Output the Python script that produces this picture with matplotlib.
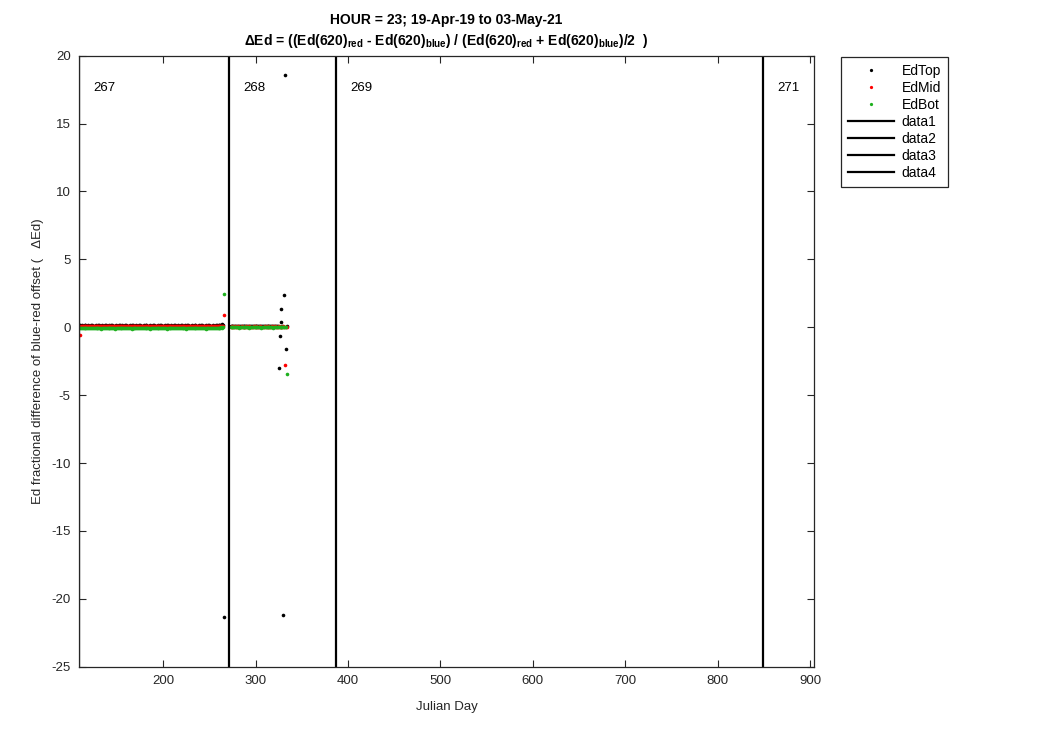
import numpy as np
import matplotlib
matplotlib.use("Agg")
import matplotlib.pyplot as plt

plt.rcParams['font.family'] = ['Liberation Sans', 'DejaVu Sans']
plt.rcParams['mathtext.fontset'] = 'custom'
plt.rcParams['mathtext.rm'] = 'Liberation Sans'
plt.rcParams['mathtext.bf'] = 'Liberation Sans:bold'
plt.rcParams['axes.unicode_minus'] = False

# deployment 267: one sample per day at hour 23
days_267 = np.arange(109, 267)
# deployment 268
days_268 = np.arange(273, 335)

# values in hundredths of delta Ed
edtop_267 = [
    14, 13, 12, 13, 11, 12, 14, 13, 12, 12, 13, 11, 12, 13, 14, 12, 11, 12, 13, 12,
    12, 13, 14, 12, 11, 13, 12, 12, 14, 13, 12, 11, 12, 13, 12, 14, 13, 12, 11, 12,
    13, 12, 12, 14, 13, 11, 12, 13, 12, 12, 13, 14, 12, 11, 12, 13, 12, 13, 14, 12,
    11, 12, 13, 12, 12, 14, 13, 12, 11, 12, 13, 12, 14, 13, 12, 11, 12, 13, 12, 12,
    14, 13, 12, 11, 12, 13, 12, 12, 13, 14, 12, 11, 12, 13, 12, 14, 13, 12, 11, 12,
    13, 12, 12, 14, 13, 11, 12, 13, 12, 12, 13, 14, 12, 11, 12, 13, 12, 13, 14, 12,
    11, 12, 13, 12, 12, 14, 13, 12, 11, 12, 13, 12, 14, 13, 12, 11, 12, 13, 12, 12,
    14, 13, 12, 11, 12, 13, 12, 12, 13, 14, 12, 13, 15, 13, 12, 24, 16, -2133,
]
edmid_267 = [
    8, -57, 9, 8, 7, 9, 8, 8, 10, 9, 8, 7, 8, 9, 8, 10, 9, 8, 7, 8,
    9, 8, 7, 8, 9, 10, 8, 7, 8, 9, 8, 8, 9, 7, 8, 9, 10, 8, 8, 7,
    8, 9, 8, 7, 9, 8, 10, 9, 8, 8, 7, 8, 9, 8, 10, 8, 7, 9, 8, 8,
    7, 8, 9, 10, 8, 8, 9, 7, 8, 9, 8, 10, 8, 7, 8, 9, 8, 9, 8, 7,
    8, 9, 8, 8, 10, 9, 7, 8, 9, 8, 8, 7, 9, 8, 10, 8, 9, 8, 7, 8,
    9, 8, 7, 8, 9, 10, 8, 8, 9, 7, 8, 9, 8, 8, 10, 9, 8, 7, 8, 9,
    8, 7, 9, 8, 8, 10, 9, 8, 7, 8, 9, 8, 8, 9, 10, 8, 7, 8, 9, 8,
    8, 9, 7, 8, 9, 8, 10, 9, 8, 8, 9, 10, 11, 9, 10, 12, 11, 91,
]
edbot_267 = [
    -4, -5, -3, -6, -4, -2, -5, -7, -4, -3, -5, -8, -4, -3, -6, -4, -5, -9, -3, -4,
    -5, -3, -6, -4, -10, -5, -3, -4, -6, -5, -3, -4, -7, -5, -4, -3, -6, -4, -5, -11,
    -4, -3, -5, -6, -4, -3, -5, -4, -8, -5, -3, -4, -6, -4, -5, -3, -4, -12, -5, -4,
    -3, -5, -4, -6, -4, -3, -5, -9, -4, -3, -5, -4, -6, -5, -3, -4, -5, -10, -4, -3,
    -5, -4, -6, -3, -4, -5, -4, -7, -5, -3, -4, -6, -4, -5, -3, -13, -4, -5, -4, -3,
    -6, -4, -5, -3, -4, -8, -5, -4, -3, -5, -4, -6, -4, -3, -5, -4, -10, -5, -3, -4,
    -5, -4, -6, -3, -4, -5, -9, -4, -3, -5, -4, -6, -5, -3, -4, -5, -4, -11, -3, -4,
    -5, -4, -3, -6, -4, -5, -3, -4, -6, -5, -3, -4, -2, -3, -1, -2, 0, 245,
]
edtop_268 = [
    8, 7, 9, 8, 6, 8, 7, 9, 8, 8, 7, 6, 8, 9, 8, 7, 8, 6, 9, 8,
    7, 8, 8, 9, 7, 6, 8, 8, 7, 9, 8, 7, 8, 6, 8, 9, 7, 8, 8, 7,
    9, 8, 6, 8, 7, 8, 9, 8, 7, 8, 8, 7,
    -300, -64, 39, 135, 7, -2118, 238, 1858, -160, 6,
]
edmid_268 = [
    5, 6, 4, 5, 5, 6, 4, 5, 6, 5, 4, 5, 6, 5, 4, 5, 5, 6, 4, 5,
    6, 5, 4, 5, 5, 6, 4, 5, 6, 5, 4, 5, 6, 5, 4, 5, 5, 6, 4, 5,
    6, 5, 4, 5, 5, 6, 4, 5, 6, 5, 4, 5, 6, 5, 4, 5, 5, 6, 4,
    -278, 5, 4,
]
edbot_268 = [
    1, 0, 2, 1, -1, 1, 2, 0, 1, -2, 1, 0, 2, 1, 0, -1, 1, 2, 0, 1,
    -3, 1, 0, 2, 1, 0, 1, -1, 2, 1, 0, 1, 2, -2, 1, 0, 1, 2, 0, 1,
    -1, 1, 0, 2, 1, 0, -3, 1, 2, 0, 1, 1, 0, 2, 1, -1, 0, 1, 2, 1,
    0, -344,
]

deploy_days = [109, 271.5, 387, 849]
deploy_labels = ["267", "268", "269", "271"]
line_labels = ["data1", "data2", "data3", "data4"]

days = np.concatenate([days_267, days_268])
edtop = np.array(edtop_267 + edtop_268) / 100.0
edmid = np.array(edmid_267 + edmid_268) / 100.0
edbot = np.array(edbot_267 + edbot_268) / 100.0

fig = plt.figure(figsize=(10.5, 7.5), dpi=100)
ax = fig.add_axes([0.0752, 0.1111, 0.700, 0.8146])

ax.plot(days, edtop, 'o', color='k', ms=2.6, mec='none', label='EdTop')
ax.plot(days, edmid, 'o', color='#ff0000', ms=2.6, mec='none', label='EdMid')
ax.plot(days, edbot, 'o', color='#1eb01e', ms=2.6, mec='none', label='EdBot')

for d, lab in zip(deploy_days, line_labels):
    ax.axvline(d, color='k', lw=1.6, label=lab)
for d, lab in zip(deploy_days, deploy_labels):
    ax.text(d + 15, 17.6, lab, fontsize=9.5, ha='left', va='center')

ax.set_xlim(109, 904)
ax.set_ylim(-25, 20)
ax.set_xticks(range(200, 1000, 100))
ax.set_yticks(range(-25, 25, 5))
ax.tick_params(direction='in', top=True, right=True, length=5, width=0.8,
               labelsize=9.5, color='#262626', labelcolor='#262626', pad=6)
for s in ax.spines.values():
    s.set_color('#262626')
    s.set_linewidth(0.9)

ax.set_xlabel('Julian Day', fontsize=9.5, color='#262626', labelpad=10)
ax.set_ylabel('Ed fractional difference of blue-red offset (   \u0394Ed)',
              fontsize=9.5, color='#262626', labelpad=5)

fig.text(0.4252, 1 - 20 / 750, 'HOUR = 23; 19-Apr-19 to 03-May-21',
         ha='center', va='center', fontsize=10, fontweight='bold')
fig.text(0.4252, 1 - 41 / 750,
         '\u0394Ed = ((Ed(620)$_{\\mathbf{red}}$ - Ed(620)$_{\\mathbf{blue}}$) / '
         '(Ed(620)$_{\\mathbf{red}}$ + Ed(620)$_{\\mathbf{blue}}$)/2  )',
         ha='center', va='center', fontsize=10, fontweight='bold')

leg = ax.legend(loc='upper left', bbox_to_anchor=(841 / 1050, 1 - 57 / 750),
                bbox_transform=fig.transFigure, borderaxespad=0, fancybox=False,
                edgecolor='#262626', framealpha=1, fontsize=10, handlelength=3.3,
                handletextpad=0.55, labelspacing=0.22, borderpad=0.5,
                markerscale=0.9)
leg.get_frame().set_linewidth(0.9)

fig.savefig('out.png', dpi=100)
